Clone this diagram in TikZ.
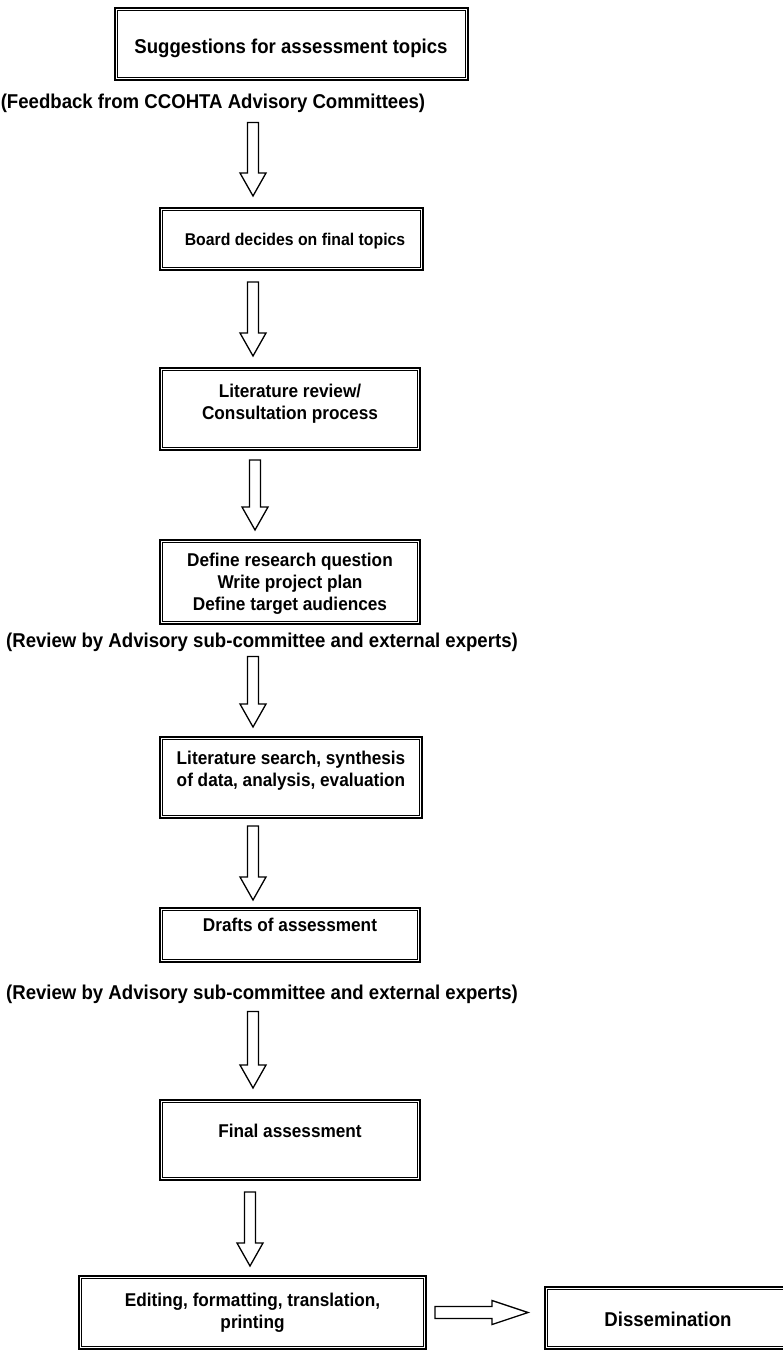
\documentclass[tikz,border=0pt]{standalone}
\usepackage{fontspec}
\setmainfont{Liberation Sans}[FakeStretch=0.93]
\usetikzlibrary{calc}

% double frame round a node: thick outer rule, thin inner rule
\newcommand\ruledframe[1]{%
  \draw[outerrule] (#1.north west) rectangle (#1.south east);
  \draw[innerrule] ($(#1.north west)+(2.6pt,-2.6pt)$) rectangle ($(#1.south east)+(-2.6pt,2.6pt)$);}
% hollow block arrow pointing down: from anchor #1 to anchor #2 along x = #3,
% leaving gaps #4 (top) and #5 (bottom)
\newcommand\downblock[5]{%
  \draw[blockarrow] let \p1=(#1), \p2=(#2) in
    (#3-5.5pt,\y1-#4) -- (#3+5.5pt,\y1-#4) -- (#3+5.5pt,\y2+#5+23pt)
    -- (#3+13pt,\y2+#5+23pt) -- (#3,\y2+#5) -- (#3-13pt,\y2+#5+23pt)
    -- (#3-5.5pt,\y2+#5+23pt) -- cycle;}
% hollow block arrow pointing right, at height of #1
\newcommand\rightblock[4]{%
  \draw[blockarrow] let \p1=(#1), \p2=(#2) in
    (\x1+#3,\y1+6pt) -- (\x2-#4-36pt,\y1+6pt) -- (\x2-#4-36pt,\y1+12pt)
    -- (\x2-#4,\y1) -- (\x2-#4-36pt,\y1-12pt) -- (\x2-#4-36pt,\y1-6pt)
    -- (\x1+#3,\y1-6pt) -- cycle;}

\begin{document}
\begin{tikzpicture}[x=1pt,y=-1pt,
  stepframe/.style={rectangle, inner sep=0pt, outer sep=0pt},
  outerrule/.style={draw=black, line width=1.3pt},
  innerrule/.style={draw=black, line width=0.8pt},
  txt/.style={font=\bfseries\fontsize{20}{22}\selectfont, align=center, inner sep=0pt},
  boxtxt/.style={font=\bfseries\fontsize{18.5}{22}\selectfont, align=center, inner sep=0pt},
  blockarrow/.style={draw=black, line width=1.3pt, fill=white, line join=miter}]
\useasboundingbox (0,0) rectangle (783,1351);

% boxes
\node[stepframe, minimum width=353pt, minimum height=72pt] (b1) at (291.5,44) {};
\node[stepframe, minimum width=263pt, minimum height=62pt] (b2) at (291.5,239) {};
\node[stepframe, minimum width=260pt, minimum height=82pt] (b3) at (290,409) {};
\node[stepframe, minimum width=260pt, minimum height=84pt] (b4) at (290,582) {};
\node[stepframe, minimum width=262pt, minimum height=81pt] (b5) at (291,777.5) {};
\node[stepframe, minimum width=260pt, minimum height=54pt] (b6) at (290,935) {};
\node[stepframe, minimum width=260pt, minimum height=80pt] (b7) at (290,1140) {};
\node[stepframe, minimum width=347pt, minimum height=73pt] (b8) at (252.5,1312.5) {};
\node[stepframe, minimum width=275pt, minimum height=62pt] (dis) at (682.5,1318) {};
\foreach \b in {b1,b2,b3,b4,b5,b6,b7,b8,dis} {\ruledframe{\b}}

% box texts
\node[txt] (t1) at (291,48) {Suggestions for assessment topics};
\node[boxtxt, font=\bfseries\fontsize{17}{22}\selectfont] (t2) at (295,241) {Board decides on final topics};
\node[boxtxt] (t3) at (290,404) {Literature review/\\Consultation process};
\node[boxtxt] (t4) at (290,584) {Define research question\\Write project plan\\Define target audiences};
\node[boxtxt] (t5) at (291,771) {Literature search, synthesis\\of data, analysis, evaluation};
\node[boxtxt] (t6) at (290,925) {Drafts of assessment};
\node[boxtxt] (t7) at (290,1131) {Final assessment};
\node[boxtxt] (t8) at (252.5,1313) {Editing, formatting, translation,\\printing};
\node[txt] (t9) at (668,1319) {Dissemination};

% review notes
\node[txt] (fb) at (213,103) {(Feedback from CCOHTA Advisory Committees)};
\node[txt] (rv1) at (262,642) {(Review by Advisory sub-committee and external experts)};
\node[txt] (rv2) at (262,994) {(Review by Advisory sub-committee and external experts)};

% flow arrows
\downblock{fb.south}{b2.north}{253pt}{10pt}{12pt}
\downblock{b2.south}{b3.north}{253pt}{12pt}{12pt}
\downblock{b3.south}{b4.north}{255pt}{10pt}{10pt}
\downblock{rv1.south}{b5.north}{253pt}{5pt}{10pt}
\downblock{b5.south}{b6.north}{253pt}{8pt}{8pt}
\downblock{rv2.south}{b7.north}{253pt}{8pt}{12pt}
\downblock{b7.south}{b8.north}{250pt}{12pt}{10pt}
\rightblock{b8.east}{dis.west}{9pt}{17pt}
\end{tikzpicture}
\end{document}
